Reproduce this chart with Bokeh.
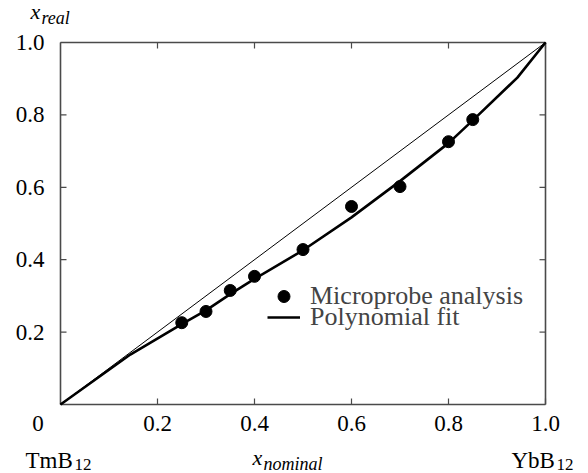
import math
from bokeh.plotting import figure
from bokeh.models import Range1d, Legend, LegendItem
from bokeh.core.properties import value
from bokeh.embed import file_html
from bokeh.resources import INLINE

# ---- data ----
x_nominal = [0.25, 0.30, 0.35, 0.40, 0.50, 0.60, 0.70, 0.80, 0.85]
x_real = [0.226, 0.257, 0.315, 0.354, 0.428, 0.547, 0.602, 0.726, 0.787]

fit_x = [0.0, 0.144, 0.25, 0.30, 0.35, 0.40, 0.50, 0.60, 0.70, 0.80, 0.85, 0.942, 1.0]
fit_y = [0.0, 0.138, 0.222, 0.260, 0.305, 0.347, 0.426, 0.517, 0.617, 0.722, 0.785, 0.903, 1.0]

diag_x = [0.0, 1.0]
diag_y = [0.0, 1.0]

ticks = [0.2, 0.4, 0.6, 0.8, 1.0]
tick_labels = ["0.2", "0.4", "0.6", "0.8", "1.0"]

FONT = "Liberation Serif"
W, H = 588, 473
FRAME_L, FRAME_R, FRAME_T, FRAME_B = 60, 545, 42, 404
SX = FRAME_R - FRAME_L
SY = FRAME_B - FRAME_T

p = figure(width=W, height=H, output_backend="svg", toolbar_location=None,
           x_range=Range1d(-FRAME_L / SX, (W - FRAME_L) / SX),
           y_range=Range1d(-(H - FRAME_B) / SY, FRAME_B / SY),
           min_border=0, x_axis_location=None, y_axis_location=None)
p.grid.visible = False
p.outline_line_color = None
p.background_fill_color = "white"
p.border_fill_color = "white"

AX_COL = "#4a4a4a"

# frame box
p.multi_line(xs=[[0, 1], [0, 1], [0, 0], [1, 1]], ys=[[0, 0], [1, 1], [0, 1], [0, 1]],
             line_color=AX_COL, line_width=1.6)
# inward ticks on all four sides
n = len(ticks)
p.ray(x=ticks, y=[0] * n, length=6, length_units="screen", angle=math.pi / 2,
      line_color=AX_COL, line_width=1.2)
p.ray(x=ticks, y=[1] * n, length=6, length_units="screen", angle=-math.pi / 2,
      line_color=AX_COL, line_width=1.2)
p.ray(x=[0] * n, y=ticks, length=6, length_units="screen", angle=0,
      line_color=AX_COL, line_width=1.2)
p.ray(x=[1] * n, y=ticks, length=6, length_units="screen", angle=math.pi,
      line_color=AX_COL, line_width=1.2)

# tick labels
p.text(x=ticks, y=[0] * n, text=tick_labels, y_offset=19, text_align="center",
       text_baseline="middle", text_font=value(FONT),
       text_font_size="23px", text_color="black")
p.text(x=[0] * n, y=ticks, text=tick_labels, x_offset=-16, text_align="right",
       text_baseline="middle", text_font=value(FONT),
       text_font_size="23px", text_color="black")
p.text(x=[0], y=[0], text=["0"], x_offset=-22.5, y_offset=19, text_align="center",
       text_baseline="middle", text_font=value(FONT),
       text_font_size="23px", text_color="black")

# diagonal reference
p.line(diag_x, diag_y, line_color="black", line_width=1)
# polynomial fit
fit_r = p.line(fit_x, fit_y, line_color="black", line_width=2.6)
# microprobe analysis
pts_r = p.scatter(x_nominal, x_real, size=12, fill_color="black", line_color="black")

for item_label, rend, row_center in [("Microprobe analysis", pts_r, 296),
                                     ("Polynomial fit", fit_r, 317)]:
    lg = Legend(items=[LegendItem(label=item_label, renderers=[rend])],
                location=(267, H - row_center - 15), border_line_color=None,
                background_fill_alpha=0, padding=0, margin=0, spacing=0,
                glyph_width=33, glyph_height=30, label_height=30, label_standoff=10,
                label_text_font=FONT, label_text_font_size="26px")
    p.add_layout(lg)


def add_text(txt, ax, ay, ox, oy, size, style="normal"):
    # anchored on a corner of the data domain, offset in screen pixels
    p.text(x=[ax], y=[ay], text=[txt], x_offset=ox, y_offset=oy,
           text_font=value(FONT), text_font_size=f"{size}px",
           text_font_style=style, text_align="left", text_baseline="middle",
           text_color="black")


# y title  x_real  (anchored at top-left corner)
add_text("x", 0, 1, -30, -31, 22, "italic")
add_text("real", 0, 1, -19, -25, 18, "italic")
# x title  x_nominal  (anchored at origin)
add_text("x", 0, 0, 192, 53, 22, "italic")
add_text("nominal", 0, 0, 203, 59, 18, "italic")
# end-members
add_text("TmB", 0, 0, -35, 55.5, 23)
add_text("12", 0, 0, 14, 60, 17)
add_text("YbB", 1, 0, -34, 55.5, 23)
add_text("12", 1, 0, 11, 60, 17)

open("out.html", "w").write(file_html(p, INLINE))
